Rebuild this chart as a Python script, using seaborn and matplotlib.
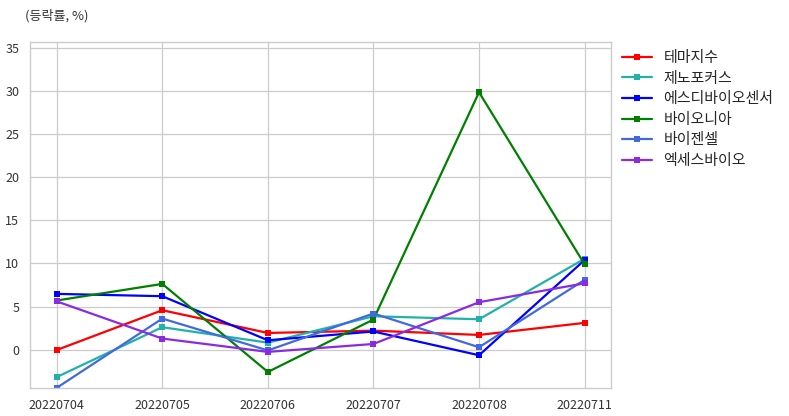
import matplotlib
matplotlib.use("Agg")
import matplotlib.pyplot as plt
import seaborn as sns
import pandas as pd

dates = ["20220704", "20220705", "20220706", "20220707", "20220708", "20220711"]
names = ["테마지수", "제노포커스", "에스디바이오센서", "바이오니아", "바이젠셀", "엑세스바이오"]
theme = [-0.05, 4.57, 1.93, 2.2, 1.7, 3.1]
genofocus = [-3.2, 2.6, 0.8, 3.87, 3.52, 10.55]
sd_bio = [6.47, 6.2, 1.08, 2.1, -0.66, 10.4]
bioneer = [5.7, 7.63, -2.6, 3.49, 29.9, 9.9]
vigencell = [-4.45, 3.6, -0.1, 4.19, 0.27, 8.1]
access_bio = [5.6, 1.28, -0.27, 0.65, 5.5, 7.7]
colors = ["#FF0000", "#20B2AA", "#0000FF", "#008000", "#4169E1", "#8A2BE2"]

series = [theme, genofocus, sd_bio, bioneer, vigencell, access_bio]
rows = []
for n, vals in zip(names, series):
    for d, v in zip(dates, vals):
        rows.append({"date": d, "name": n, "value": v})
df = pd.DataFrame(rows)

sns.set_theme(style="whitegrid")
plt.rcParams["font.family"] = ["Noto Sans CJK KR", "DejaVu Sans"]
plt.rcParams["axes.unicode_minus"] = False

fig = plt.figure(figsize=(7.89, 4.16), dpi=100)
ax = fig.add_axes([0.0384, 0.0666, 0.7360, 0.8317])
sns.lineplot(data=df, x="date", y="value", hue="name", hue_order=names,
             palette=dict(zip(names, colors)), marker="s", markersize=5,
             markeredgewidth=0, linewidth=1.6, ax=ax, sort=False)
ax.set_xlim(-0.25, 5.25)
ax.set_ylim(-4.5, 35.7)
ax.set_yticks([0, 5, 10, 15, 20, 25, 30, 35])
ax.set_xlabel("")
ax.set_ylabel("")
ax.tick_params(axis="both", labelsize=9, colors="#333333", pad=2)
for s in ax.spines.values():
    s.set_color("#cccccc")
    s.set_linewidth(1.0)
ax.grid(color="#cccccc", linewidth=0.9)
leg = ax.legend(loc="upper left", bbox_to_anchor=(1.0, 1.005), frameon=False,
                fontsize=10.8, handlelength=2.0, labelspacing=0.44, borderaxespad=0.3)
fig.text(0.032, 0.963, "(등락률, %)", fontsize=9.4, color="#333333", va="center", ha="left")
fig.savefig("out.png", dpi=100)
